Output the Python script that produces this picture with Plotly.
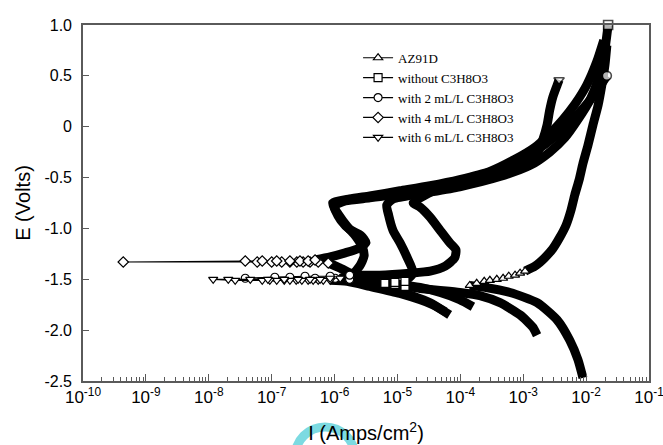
import numpy as np
import plotly.graph_objects as go

# Potentiodynamic polarization data: log10 of current density (A/cm^2) and potential (V)
# Each curve: cathodic branch, the region around the corrosion potential, anodic branch.

# AZ91D
az_cath_logi = [-2.05, -2.13, -2.26, -2.46, -2.78, -3.21, -3.61, -3.85]
az_cath_e = [-2.47, -2.29, -2.10, -1.90, -1.73, -1.63, -1.58, -1.56]
az_ecorr_logi = [-3.85, -3.74, -3.62, -3.53, -3.42, -3.32, -3.23, -3.13, -3.05, -2.97]
az_ecorr_e = [-1.56, -1.54, -1.52, -1.51, -1.50, -1.49, -1.47, -1.46, -1.44, -1.42]
az_anod_logi = [-2.97, -2.81, -2.66, -2.53, -2.42, -2.32, -2.24, -2.18, -2.11, -2.05,
                -1.97, -1.89, -1.81, -1.75, -1.70, -1.67]
az_anod_e = [-1.42, -1.37, -1.29, -1.20, -1.09, -0.97, -0.82, -0.67, -0.52, -0.36,
             -0.18, 0.02, 0.21, 0.41, 0.61, 0.80]

# without C3H8O3
w0_cath_logi = [-2.78, -2.85, -3.05, -3.37, -3.69, -4.01, -4.32, -4.64, -4.88]
w0_cath_e = [-2.05, -1.97, -1.85, -1.73, -1.66, -1.63, -1.61, -1.59, -1.57]
w0_ecorr_logi = [-4.88, -5.04, -5.20, -5.04, -4.88]
w0_ecorr_e = [-1.57, -1.55, -1.54, -1.53, -1.52]
w0_anod_logi = [-4.88, -4.75, -4.85, -4.96, -5.07, -5.14, -5.17, -5.07, -4.64, -4.01,
                -3.37, -2.89, -2.58, -2.34, -2.13, -1.94, -1.81, -1.72, -1.65]
w0_anod_e = [-1.52, -1.44, -1.28, -1.14, -1.02, -0.87, -0.77, -0.71, -0.66, -0.59,
             -0.49, -0.38, -0.25, -0.11, 0.07, 0.26, 0.46, 0.68, 1.00]

# with 2 mL/L C3H8O3
w2_cath_logi = [-3.80, -4.01, -4.32, -4.64, -4.96, -5.28, -5.52, -5.76]
w2_cath_e = [-1.77, -1.70, -1.63, -1.58, -1.55, -1.53, -1.51, -1.50]
w2_ecorr_logi = [-5.76, -5.99, -6.31, -6.71, -7.42, -6.95, -6.47, -6.07, -5.76]
w2_ecorr_e = [-1.50, -1.49, -1.49, -1.48, -1.49, -1.48, -1.47, -1.47, -1.46]
w2_anod_logi = [-5.76, -5.28, -4.80, -4.48, -4.24, -4.09, -4.07, -4.17, -4.32, -4.48,
                -4.64, -4.75, -4.32, -3.69, -3.21, -2.81, -2.50, -2.23, -2.02, -1.83, -1.67]
w2_anod_e = [-1.46, -1.46, -1.44, -1.42, -1.37, -1.29, -1.21, -1.14, -1.02, -0.89,
             -0.79, -0.75, -0.60, -0.48, -0.37, -0.24, -0.10, 0.06, 0.20, 0.35, 0.50]

# with 4 mL/L C3H8O3
w4_cath_logi = [-4.24, -4.48, -4.96, -5.36, -5.68, -5.91, -6.10]
w4_cath_e = [-1.82, -1.73, -1.62, -1.54, -1.46, -1.39, -1.34]
w4_ecorr_logi = [-6.10, -6.26, -6.39, -6.50, -6.60, -6.71, -6.84, -7.00, -7.23, -9.36,
                 -7.42, -7.15, -6.92, -6.71, -6.55, -6.42, -6.31]
w4_ecorr_e = [-1.34, -1.33, -1.33, -1.33, -1.33, -1.33, -1.33, -1.33, -1.33, -1.33,
              -1.32, -1.32, -1.32, -1.32, -1.32, -1.32, -1.31]
w4_anod_logi = [-6.31, -6.07, -5.83, -5.63, -5.50, -5.58, -5.76, -5.90, -5.99, -6.03,
                -5.76, -5.44, -4.96, -4.48, -4.01, -3.53, -3.13, -2.81, -2.58, -2.37,
                -2.18, -1.99, -1.83, -1.72]
w4_anod_e = [-1.31, -1.28, -1.24, -1.20, -1.14, -1.07, -1.01, -0.92, -0.82, -0.75,
             -0.71, -0.68, -0.63, -0.58, -0.52, -0.44, -0.32, -0.20, -0.07, 0.07,
             0.22, 0.41, 0.64, 0.85]

# with 6 mL/L C3H8O3
w6_cath_logi = [-4.17, -4.44, -4.96, -5.44, -5.80, -6.07]
w6_cath_e = [-1.85, -1.75, -1.64, -1.57, -1.52, -1.51]
w6_ecorr_logi = [-6.07, -6.18, -6.26, -6.34, -6.42, -6.52, -6.61, -6.71, -6.80, -6.92,
                 -7.03, -7.15, -7.58, -7.93, -7.69, -7.34, -7.06, -6.80, -6.58, -6.39,
                 -6.23, -6.07, -5.91]
w6_ecorr_e = [-1.51, -1.51, -1.51, -1.51, -1.51, -1.51, -1.51, -1.51, -1.51, -1.51,
              -1.51, -1.51, -1.51, -1.50, -1.50, -1.50, -1.50, -1.50, -1.50, -1.50,
              -1.50, -1.49, -1.49]
w6_anod_logi = [-5.91, -5.72, -5.60, -5.53, -5.56, -5.66, -5.80, -5.93, -6.01, -5.83,
                -5.44, -4.96, -4.48, -4.01, -3.53, -3.13, -2.89, -2.77, -2.69, -2.62,
                -2.58, -2.53, -2.46, -2.43]
w6_anod_e = [-1.49, -1.45, -1.37, -1.27, -1.18, -1.08, -0.98, -0.87, -0.78, -0.73,
             -0.70, -0.66, -0.61, -0.56, -0.48, -0.39, -0.33, -0.25, -0.13, 0.02,
             0.16, 0.29, 0.41, 0.46]

series_names = ["AZ91D", "without C3H8O3", "with 2 mL/L C3H8O3",
                "with 4 mL/L C3H8O3", "with 6 mL/L C3H8O3"]
series_symbols = ["triangle-up", "square", "circle", "diamond", "triangle-down"]
# curves whose last anodic point stands clear of the bundle and shows its symbol
end_symbol_shown = [False, True, True, False, True]

curves = [
    (az_cath_logi, az_cath_e, az_ecorr_logi, az_ecorr_e, az_anod_logi, az_anod_e),
    (w0_cath_logi, w0_cath_e, w0_ecorr_logi, w0_ecorr_e, w0_anod_logi, w0_anod_e),
    (w2_cath_logi, w2_cath_e, w2_ecorr_logi, w2_ecorr_e, w2_anod_logi, w2_anod_e),
    (w4_cath_logi, w4_cath_e, w4_ecorr_logi, w4_ecorr_e, w4_anod_logi, w4_anod_e),
    (w6_cath_logi, w6_cath_e, w6_ecorr_logi, w6_ecorr_e, w6_anod_logi, w6_anod_e),
]

x_tick_exp = list(range(-10, 0))
y_ticks = [-2.5, -2.0, -1.5, -1.0, -0.5, 0, 0.5, 1.0]
y_tick_text = ["-2.5", "-2.0", "-1.5", "-1.0", "-0.5", "0", "0.5", "1.0"]

fig = go.Figure()

# Densely sampled branches appear as heavy bands
for sym, shown, (cl, ce, el, ee, al, ae) in zip(series_symbols, end_symbol_shown, curves):
    for li, ev, is_anodic in ((cl, ce, False), (al, ae, True)):
        sizes = [0] * len(li)
        if is_anodic and shown:
            sizes[-1] = 9
        fig.add_trace(go.Scatter(
            x=10 ** np.array(li), y=ev, mode="lines+markers", cliponaxis=False,
            line=dict(color="black", width=9, shape="spline", smoothing=0.6),
            marker=dict(symbol=sym, size=sizes, color="white",
                        line=dict(color="black", width=1.6)),
            showlegend=False, hoverinfo="skip"))

# Sparse points near the corrosion potential, with open markers
for name, sym, (cl, ce, el, ee, al, ae) in zip(series_names, series_symbols, curves):
    fig.add_trace(go.Scatter(
        x=10 ** np.array(el), y=ee, mode="lines+markers", name=name,
        line=dict(color="black", width=1.2),
        marker=dict(symbol=sym, size=8, color="white",
                    line=dict(color="black", width=1.2))))

axis_col = "#5a5a5a"
fig.update_xaxes(
    type="log", range=[-10, -1],
    tickvals=[10.0 ** k for k in x_tick_exp] + [0.1],
    ticktext=["10<sup>%d</sup>" % k for k in x_tick_exp] + ["10<sup>-1</sup>"],
    ticklabeloverflow="allow",
    ticks="inside", ticklen=7, tickwidth=1.2, tickcolor=axis_col,
    minor=dict(ticks="inside", ticklen=4, tickwidth=1, tickcolor=axis_col, dtick="D1"),
    showline=True, linecolor=axis_col, linewidth=1.6, mirror=True,
    showgrid=False, zeroline=False, automargin=False,
    tickfont=dict(family="Liberation Sans, Arial", size=17, color="black"),
    title=dict(text="I (Amps/cm<sup>2</sup>)", standoff=20,
               font=dict(family="Liberation Sans, Arial", size=20, color="black")))
fig.update_yaxes(
    range=[-2.5, 1.0], tickvals=y_ticks, ticktext=y_tick_text,
    ticks="inside", ticklen=6, tickwidth=1.2, tickcolor=axis_col,
    showline=True, linecolor=axis_col, linewidth=1.6, mirror=True,
    showgrid=False, zeroline=False, ticklabelstandoff=6, automargin=False,
    tickfont=dict(family="Liberation Sans, Arial", size=16, color="black"),
    title=dict(text="E (Volts)", standoff=8,
               font=dict(family="Liberation Sans, Arial", size=20, color="black")))

fig.update_layout(
    width=663, height=445,
    margin=dict(l=83, r=14, t=25, b=64),
    paper_bgcolor="white", plot_bgcolor="white",
    legend=dict(x=0.486, y=0.95, xanchor="left", yanchor="top",
                bgcolor="rgba(0,0,0,0)", itemwidth=30, tracegroupgap=0,
                font=dict(family="Liberation Serif, Times New Roman", size=13, color="black")),
    shapes=[dict(type="circle", xref="paper", yref="paper",
                 x0=0.3746, x1=0.4806, y0=-0.2978, y1=-0.1292,
                 line=dict(color="rgba(80,205,215,0.75)", width=9), layer="below")],
)

fig.write_html("out.html")
